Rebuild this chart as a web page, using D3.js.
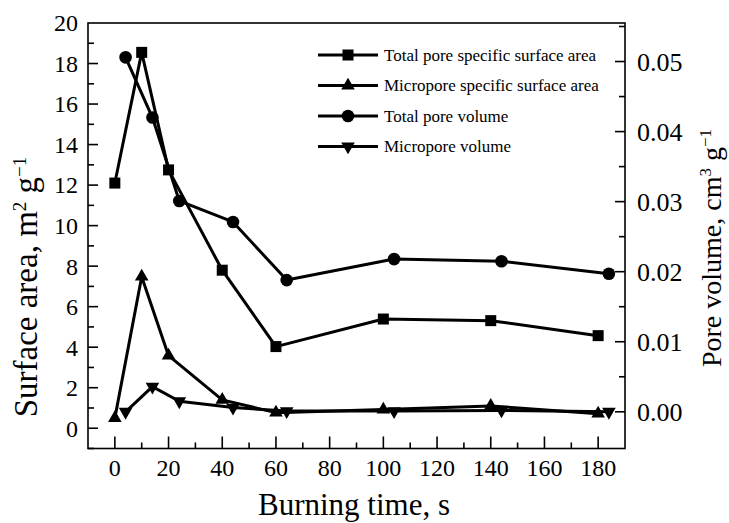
<!DOCTYPE html>
<html>
<head>
<meta charset="utf-8">
<script src="https://cdn.jsdelivr.net/npm/d3@7"></script>
<style>
  html, body { margin: 0; padding: 0; background: #fff; }
  svg { display: block; }
</style>
</head>
<body>
<svg id="chart" width="729" height="523" font-family="'Liberation Serif', 'Times New Roman', serif"></svg>
<script>
// Burning time (s) for surface-area measurements and pore-volume measurements
const timeArea = [0, 10, 20, 40, 60, 100, 140, 180];
const timeVolume = [4, 14, 24, 44, 64, 104, 144, 184];

// Specific surface area, m2/g
const totalArea = [12.1, 18.55, 12.75, 7.8, 4.03, 5.39, 5.31, 4.57];
const microArea = [0.5, 7.48, 3.58, 1.4, 0.77, 0.92, 1.1, 0.72];

// Pore volume, cm3/g
const totalVolume = [0.0506, 0.0420, 0.0301, 0.0271, 0.0188, 0.0218, 0.0215, 0.0197];
const microVolume = [0.0, 0.0036, 0.0015, 0.0006, 0.0001, 0.0001, 0.0002, 0.0];

const xTicks = [0, 20, 40, 60, 80, 100, 120, 140, 160, 180];
const leftTicks = [0, 2, 4, 6, 8, 10, 12, 14, 16, 18, 20];
const rightTicks = [0.00, 0.01, 0.02, 0.03, 0.04, 0.05];

const legendLabels = [
  "Total pore specific surface area",
  "Micropore specific surface area",
  "Total pore volume",
  "Micropore volume"
];

const svg = d3.select("#chart");
const plot = { left: 88, right: 625, top: 23, bottom: 448.5 };

const x = d3.scaleLinear().domain([-10, 190]).range([plot.left, plot.right]);
const yL = d3.scaleLinear().domain([-1, 20]).range([plot.bottom, plot.top]);
const yR = d3.scaleLinear().domain([-0.00524, 0.0555]).range([plot.bottom, plot.top]);

// Frame
svg.append("rect")
  .attr("x", plot.left).attr("y", plot.top)
  .attr("width", plot.right - plot.left).attr("height", plot.bottom - plot.top)
  .attr("fill", "none").attr("stroke", "#000").attr("stroke-width", 1.6);

// Ticks drawn inward
const tickG = svg.append("g").attr("stroke", "#000").attr("stroke-width", 1.6);
d3.range(0, 181, 10).forEach(v => {
  const major = v % 20 === 0;
  tickG.append("line")
    .attr("x1", x(v)).attr("x2", x(v))
    .attr("y1", plot.bottom).attr("y2", plot.bottom - (major ? 12 : 6));
});
d3.range(-1, 20, 1).forEach(v => {
  const major = v % 2 === 0;
  tickG.append("line")
    .attr("x1", plot.left).attr("x2", plot.left + (major ? 10 : 6))
    .attr("y1", yL(v)).attr("y2", yL(v));
});
d3.range(0, 0.0551, 0.005).forEach(v => {
  const major = Math.round(v * 1000) % 10 === 0;
  tickG.append("line")
    .attr("x1", plot.right).attr("x2", plot.right - (major ? 10 : 6))
    .attr("y1", yR(v)).attr("y2", yR(v));
});

// Tick labels
svg.append("g").selectAll("text").data(xTicks).join("text")
  .attr("x", d => x(d)).attr("y", 476)
  .attr("text-anchor", "middle").attr("font-size", 24)
  .text(d => d);
svg.append("g").selectAll("text").data(leftTicks).join("text")
  .attr("x", 78).attr("y", d => yL(d)).attr("dy", "0.35em")
  .attr("text-anchor", "end").attr("font-size", 24)
  .text(d => d);
svg.append("g").selectAll("text").data(rightTicks).join("text")
  .attr("x", 637).attr("y", d => yR(d)).attr("dy", "0.35em")
  .attr("text-anchor", "start").attr("font-size", 26)
  .text(d => d3.format(".2f")(d));

// Axis titles
svg.append("text")
  .attr("x", 354).attr("y", 515)
  .attr("text-anchor", "middle").attr("font-size", 31)
  .text("Burning time, s");

const lt = svg.append("text")
  .attr("transform", "translate(37,287) rotate(-90)")
  .attr("text-anchor", "middle").attr("font-size", 33);
lt.append("tspan").text("Surface area, m");
lt.append("tspan").attr("dy", -11).attr("font-size", 19).text("2");
lt.append("tspan").attr("dy", 11).text(" g");
lt.append("tspan").attr("dy", -11).attr("font-size", 19).text("\u22121");

const rt = svg.append("text")
  .attr("transform", "translate(721,248) rotate(-90)")
  .attr("text-anchor", "middle").attr("font-size", 28);
rt.append("tspan").text("Pore volume, cm");
rt.append("tspan").attr("dy", -10).attr("font-size", 17).text("3");
rt.append("tspan").attr("dy", 10).text(" g");
rt.append("tspan").attr("dy", -10).attr("font-size", 17).text("\u22121");

// Series
const series = [
  { xs: timeArea, ys: totalArea, scale: yL, shape: "square" },
  { xs: timeArea, ys: microArea, scale: yL, shape: "triangle" },
  { xs: timeVolume, ys: totalVolume, scale: yR, shape: "circle" },
  { xs: timeVolume, ys: microVolume, scale: yR, shape: "down" }
];

function marker(g, shape, cx, cy) {
  if (shape === "square") {
    g.append("rect").attr("x", cx - 5.5).attr("y", cy - 5.5)
      .attr("width", 11).attr("height", 11).attr("fill", "#000");
  } else if (shape === "circle") {
    g.append("circle").attr("cx", cx).attr("cy", cy).attr("r", 6.3).attr("fill", "#000");
  } else {
    const sym = d3.symbol().type(d3.symbolTriangle).size(80);
    g.append("path").attr("d", sym())
      .attr("transform", `translate(${cx},${cy})` + (shape === "down" ? " rotate(180)" : ""))
      .attr("fill", "#000");
  }
}

const line = d3.line();
series.forEach(s => {
  const pts = s.xs.map((t, i) => [x(t), s.scale(s.ys[i])]);
  svg.append("path").attr("d", line(pts))
    .attr("fill", "none").attr("stroke", "#000").attr("stroke-width", 3)
    .attr("stroke-linejoin", "round");
  const g = svg.append("g");
  pts.forEach(p => marker(g, s.shape, p[0], p[1]));
});

// Legend
const legend = svg.append("g");
legendLabels.forEach((label, i) => {
  const ly = 55 + i * 30.5;
  legend.append("line").attr("x1", 318).attr("x2", 378)
    .attr("y1", ly).attr("y2", ly)
    .attr("stroke", "#000").attr("stroke-width", 3);
  marker(legend, series[i].shape, 348, ly);
  legend.append("text").attr("x", 384).attr("y", ly).attr("dy", "0.35em")
    .attr("font-size", 17).text(label);
});
</script>
</body>
</html>
